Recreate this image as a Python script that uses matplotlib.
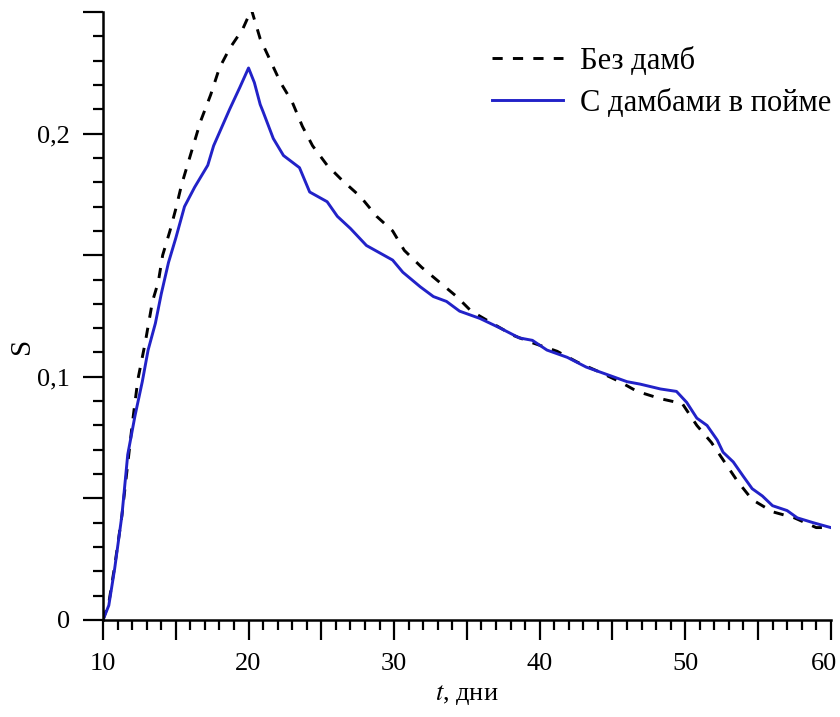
import matplotlib
matplotlib.use("Agg")
import matplotlib.pyplot as plt
import matplotlib.transforms as mtransforms
from matplotlib.ticker import MultipleLocator, FuncFormatter

plt.rcParams['font.family'] = ['Liberation Serif', 'DejaVu Serif']
plt.rcParams['mathtext.fontset'] = 'stix'

# Без дамб
t_nodam = [10.0, 10.4, 10.8, 11.3, 12.0, 12.4, 12.9, 13.4, 13.8, 14.1, 14.6, 15.0,
           15.4, 16.0, 16.7, 17.4, 18.0, 18.7, 19.6, 20.2, 20.8, 21.5, 22.2, 23.0,
           23.7, 24.4, 25.4, 26.4, 27.7, 28.8, 29.9, 30.7, 31.9, 33.1, 34.3, 35.3,
           36.6, 38.2, 39.5, 41.2, 42.6, 44.1, 45.5, 46.7, 48.3, 49.8, 50.8, 51.8,
           52.7, 53.6, 54.6, 56.0, 57.5, 59.0, 60.0]
s_nodam = [0.0, 0.007, 0.022, 0.043, 0.080, 0.099, 0.114, 0.131, 0.139, 0.150, 0.160, 0.169,
           0.179, 0.191, 0.205, 0.216, 0.227, 0.235, 0.243, 0.251, 0.239, 0.230, 0.221, 0.213,
           0.203, 0.195, 0.187, 0.181, 0.174, 0.166, 0.160, 0.152, 0.145, 0.139, 0.133, 0.127,
           0.1225, 0.117, 0.114, 0.1105, 0.106, 0.102, 0.098, 0.094, 0.091, 0.089, 0.080, 0.073,
           0.065, 0.057, 0.0495, 0.0445, 0.042, 0.038, 0.038]

# С дамбами в пойме
t_dam = [10.0, 10.4, 10.8, 11.3, 11.7, 12.2, 12.7, 13.1, 13.6, 14.0, 14.5, 15.0,
         15.6, 16.3, 17.2, 17.6, 18.7, 19.4, 20.0, 20.4, 20.8, 21.0, 21.7, 22.4,
         23.5, 24.2, 25.4, 26.1, 27.0, 28.1, 29.0, 29.9, 30.6, 31.8, 32.7, 33.6,
         34.5, 35.9, 37.3, 38.6, 39.5, 40.5, 41.9, 43.2, 44.6, 46.0, 46.9, 48.3,
         49.4, 50.1, 50.8, 51.5, 52.2, 52.6, 53.3, 54.0, 54.6, 55.3, 56.0, 57.0,
         57.7, 58.8, 60.0]
s_dam = [0.0, 0.006, 0.021, 0.043, 0.068, 0.084, 0.098, 0.111, 0.122, 0.134, 0.147, 0.157,
         0.170, 0.178, 0.187, 0.195, 0.210, 0.219, 0.227, 0.221, 0.212, 0.209, 0.198, 0.191,
         0.186, 0.176, 0.172, 0.166, 0.161, 0.154, 0.151, 0.148, 0.143, 0.137, 0.133, 0.131,
         0.127, 0.124, 0.120, 0.116, 0.115, 0.111, 0.108, 0.104, 0.101, 0.098, 0.097, 0.095,
         0.094, 0.0895, 0.083, 0.080, 0.074, 0.069, 0.065, 0.059, 0.054, 0.051, 0.047, 0.045,
         0.042, 0.040, 0.038]

fig = plt.figure(figsize=(8.4, 7.17), dpi=100)
ax = fig.add_axes([0.1226, 0.1353, 0.8664, 0.8479])

ax.plot(t_nodam, s_nodam, color='black', lw=2.1, linestyle=(0, (3.5, 3.5)), label='Без дамб')
ax.plot(t_dam, s_dam, color='#2222c8', lw=2.1, label='С дамбами в пойме')

ax.set_xlim(10, 60)
ax.set_ylim(0, 0.25)

for side in ['top', 'right']:
    ax.spines[side].set_visible(False)
for side in ['left', 'bottom']:
    ax.spines[side].set_linewidth(1.8)

ax.xaxis.set_major_locator(MultipleLocator(5))
ax.xaxis.set_minor_locator(MultipleLocator(1))
ax.yaxis.set_major_locator(MultipleLocator(0.05))
ax.yaxis.set_minor_locator(MultipleLocator(0.01))

ax.xaxis.set_major_formatter(FuncFormatter(
    lambda v, p: f"{int(round(v))}" if round(v) % 10 == 0 else ""))


def yfmt(v, p):
    k = int(round(v * 100))
    if k % 10 != 0:
        return ""
    if k == 0:
        return "0"
    return f"{v:.1f}".replace('.', ',')


ax.yaxis.set_major_formatter(FuncFormatter(yfmt))

ax.tick_params(which='major', direction='out', length=14.5, width=1.6, labelsize=19, pad=9)
ax.tick_params(which='minor', direction='out', length=7.5, width=1.6)

ax.set_xlabel(r"$t$, дни", fontsize=19, labelpad=6)
ax.set_ylabel("S", fontsize=21)
ax.yaxis.set_label_coords(-0.093, 0.45)

ax.legend(loc='upper right', bbox_to_anchor=(1.0, 0.943), frameon=False, fontsize=22,
          handlelength=2.3, handletextpad=0.55, labelspacing=0.42,
          borderaxespad=0, borderpad=0)

# keep the last x label inside the figure, as in the original
fig.canvas.draw()
shift = mtransforms.ScaledTranslation(-7 / 100, 0, fig.dpi_scale_trans)
for tick in ax.xaxis.get_major_ticks():
    if tick.label1.get_text() == "60":
        tick.label1.set_transform(tick.label1.get_transform() + shift)

fig.savefig("out.png", dpi=100)
